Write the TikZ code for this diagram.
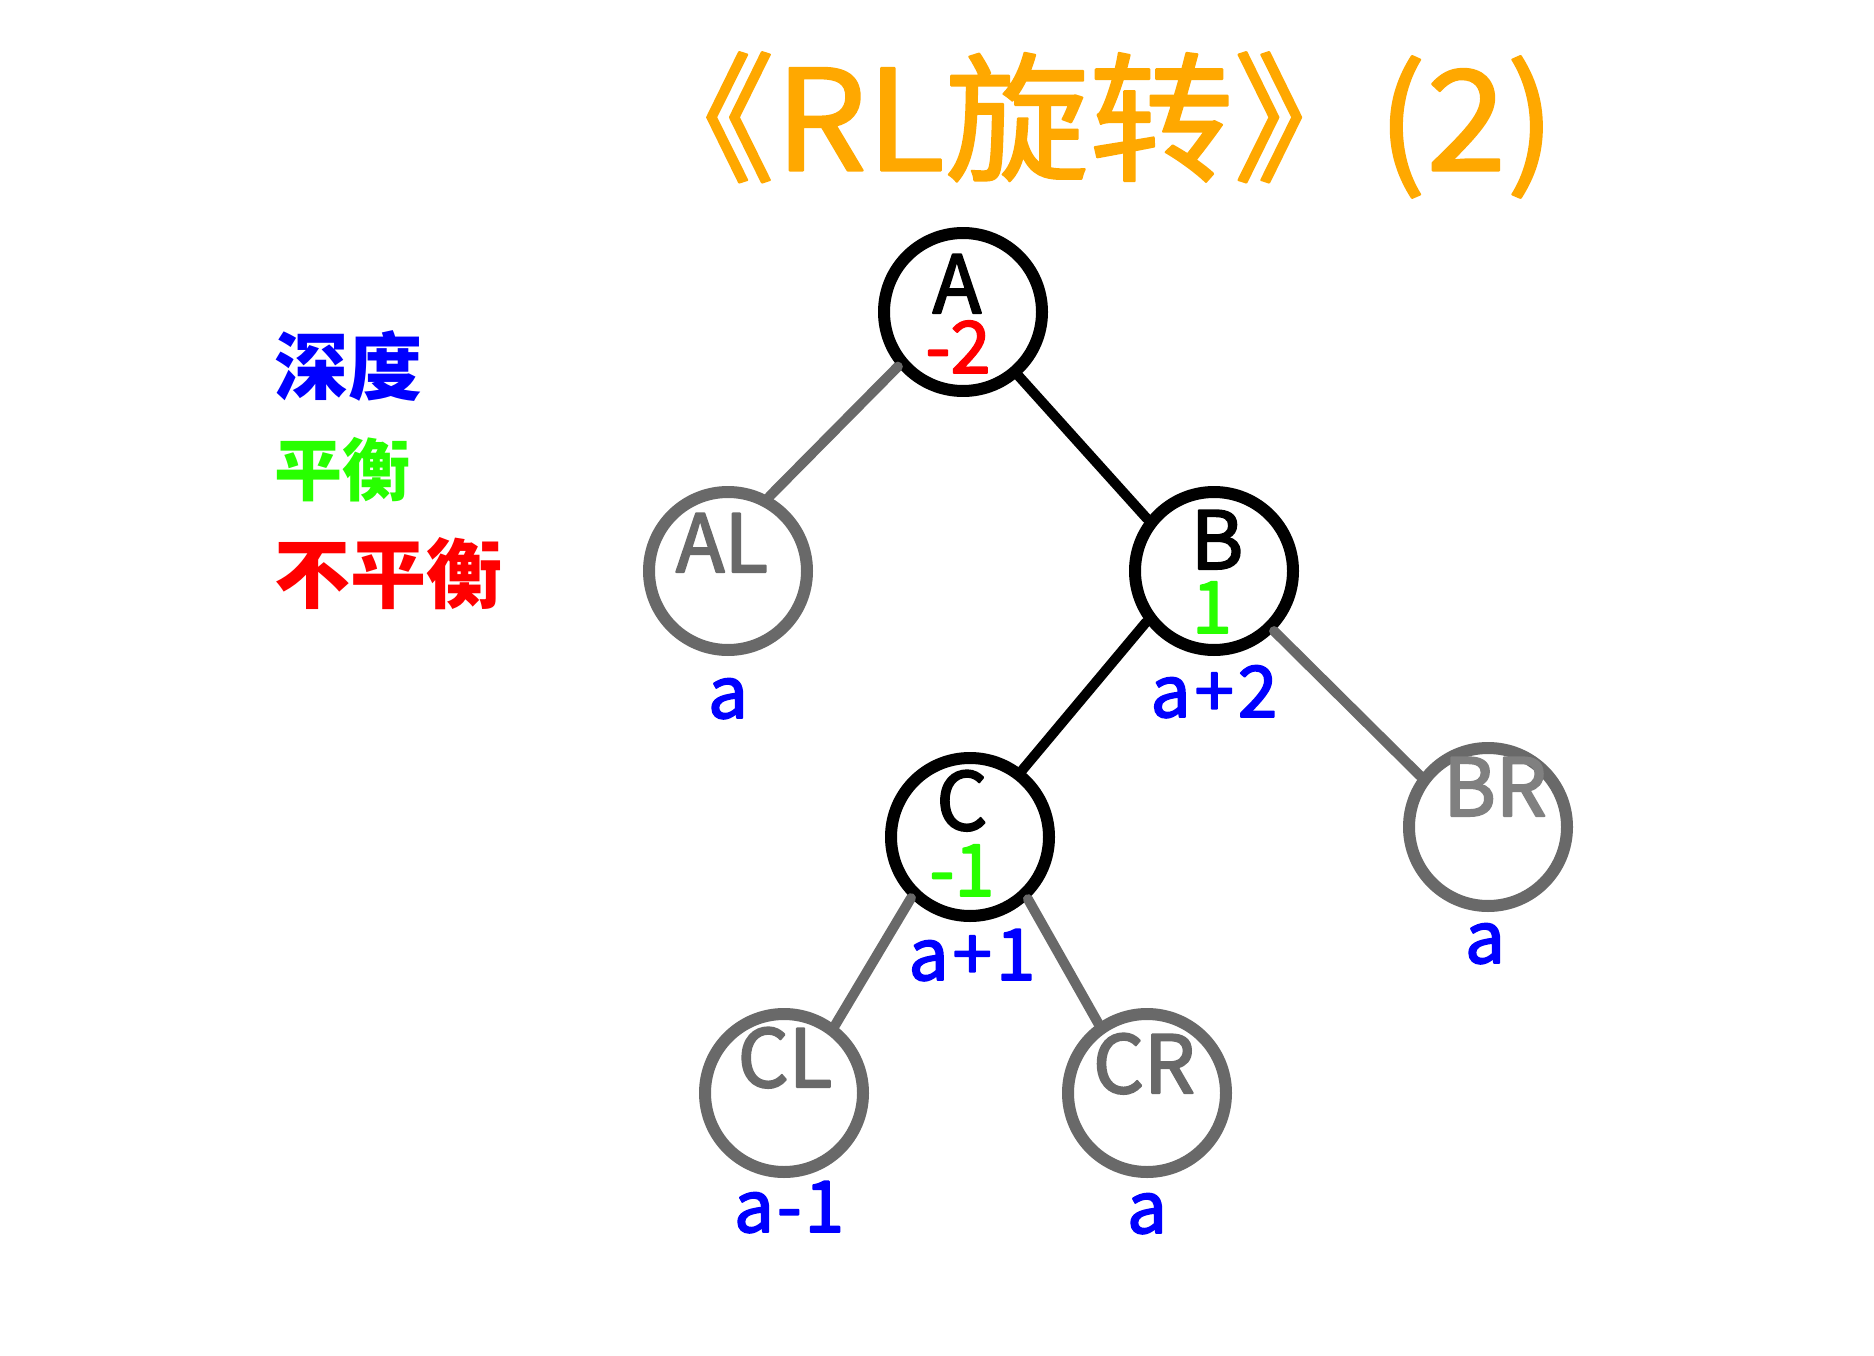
\documentclass[tikz,border=0pt]{standalone}
\usepackage{fontspec}
\setmainfont{Noto Sans CJK SC}
\newfontfamily\heavyfont[FakeBold=2.5]{Noto Sans CJK SC}
\newfontfamily\titlefont[FakeBold=1.5]{Noto Sans CJK SC}
\definecolor{titleorange}{RGB}{255,168,0}
\definecolor{depthblue}{RGB}{0,0,255}
\definecolor{okgreen}{RGB}{40,255,0}
\definecolor{badred}{RGB}{255,0,0}
\definecolor{treegray}{RGB}{105,105,105}
\definecolor{lightgray}{RGB}{128,128,128}
\begin{document}
\begin{tikzpicture}[x=1pt, y=-1pt, line join=round, line cap=round,
  bignode/.style={circle, draw=black, line width=12pt, fill=white, minimum size=158pt, inner sep=0pt},
  subtree/.style={bignode, draw=treegray},
  nm/.style={font=\heavyfont\fontsize{80}{80}\selectfont, anchor=base, inner sep=0pt},
  bf/.style={font=\heavyfont\fontsize{72}{72}\selectfont, anchor=base, inner sep=0pt},
  dep/.style={font=\heavyfont\fontsize{71}{71}\selectfont, anchor=base, inner sep=0pt, text=depthblue},
  heavy/.style={line width=10pt},
  light/.style={line width=10pt, draw=treegray}]
\useasboundingbox (0,0) rectangle (1874,1356);
% title
\node[font=\titlefont\fontsize{140}{140}\selectfont, text=titleorange, xscale=1.03] (title) at (1093,125) {《RL旋转》(2)};
% legend
\node[anchor=west, inner sep=0pt, font=\fontsize{74}{74}\selectfont\bfseries, text=depthblue] (depth) at (274,366) {深度};
\node[anchor=west, inner sep=0pt, font=\fontsize{68}{68}\selectfont\bfseries, text=okgreen] (bal) at (274,470) {平衡};
\node[anchor=west, inner sep=0pt, font=\fontsize{76}{76}\selectfont\bfseries, text=badred] (unbal) at (274,574) {不平衡};
% tree
\node[bignode] (A) at (963,312) {};
\node[subtree] (AL) at (728,571) {};
\node[bignode] (B) at (1214,571) {};
\node[bignode] (C) at (970,837) {};
\node[subtree] (BR) at (1488,827) {};
\node[subtree] (CL) at (784,1093) {};
\node[subtree] (CR) at (1147,1093) {};
\draw[light] (A.220) -- (AL.61);
\draw[heavy] (A.311) -- (B.142);
\draw[heavy] (B.217) -- (C.52);
\draw[light] (B.315) -- (BR.143);
\draw[light] (C.226) -- (CL.53);
\draw[light] (C.313) -- (CR.125);
% names and balance factors
\node[nm] (A-nm) at (957,313) {A};
\node[bf, text=badred] (A-bf) at (958,373) {-2};
\node[nm] (B-nm) at (1217,569) {B};
\node[bf, text=okgreen] (B-bf) at (1212,633) {1};
\node[nm] (C-nm) at (962,830) {C};
\node[bf, text=okgreen] (C-bf) at (962,896) {-1};
\node[nm, text=treegray] (AL-nm) at (722,572) {AL};
\node[nm, text=lightgray] (BR-nm) at (1495,816) {BR};
\node[nm, text=treegray] (CL-nm) at (785,1087) {CL};
\node[nm, text=treegray] (CR-nm) at (1144,1093) {CR};
% depths
\node[dep] (AL-d) at (728,718) {a};
\node[dep] (B-d) at (1214,717) {a\kern4pt+\kern4pt2};
\node[dep] (C-d) at (972,980) {a\kern4pt+\kern4pt1};
\node[dep] (BR-d) at (1485,963) {a};
\node[dep] (CL-d) at (789,1232) {a\kern3pt-\kern3pt1};
\node[dep] (CR-d) at (1147,1233) {a};
\end{tikzpicture}
\end{document}
